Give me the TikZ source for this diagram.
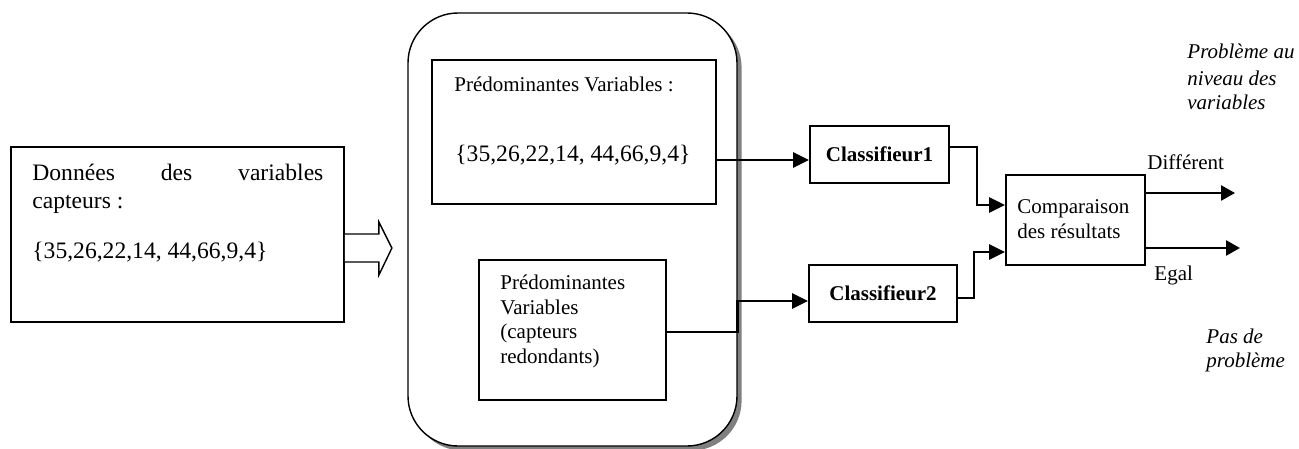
\documentclass[tikz,border=0pt]{standalone}
\usepackage{fontspec}
\setmainfont{Liberation Serif}
\usetikzlibrary{arrows.meta,shadows,calc}

\begin{document}
\begin{tikzpicture}[x=0.5pt,y=-0.5pt,
  every node/.style={font=\fontsize{10.5}{12.5}\selectfont},
  box/.style={draw, line width=0.9pt, inner sep=0pt, fill=white},
  txt/.style={anchor=base west, inner sep=0pt},
  bigtxt/.style={txt, font=\fontsize{11.8}{14}\selectfont},
  conn/.style={line width=1.3pt},
  arr/.style={conn, -{Triangle[length=8pt,width=7.5pt]}},
  outarr/.style={conn, -{Triangle[length=7pt,width=7.5pt]}},
]
\useasboundingbox (0,0) rectangle (1299,449);

% input data block
\node[box, minimum width=166.5pt, minimum height=87.5pt] (src) at (177.5,234.5) {};
\node[bigtxt] (srcA) at (32,180) {\makebox[145.5pt][s]{Données\hfill des\hfill variables}};
\node[bigtxt] (srcB) at (32,208) {capteurs :};
\node[bigtxt] (srcC) at (32,258) {\{35,26,22,14, 44,66,9,4\}};

% processing unit with its drop shadow
\node[draw, line width=0.7pt, fill=white, rounded corners=25pt,
      minimum width=164.5pt, minimum height=216.5pt,
      drop shadow={shadow xshift=2.3pt, shadow yshift=-2.3pt, fill=black!50, opacity=1}]
      (unit) at (572.5,229.5) {};

% hollow arrow feeding the unit
\coordinate (hb) at (src.east |- 0,248);
\draw[line width=0.7pt, fill=white] (hb) ++(0,-14) -- ++(34,0) -- ++(0,-12)
  -- ++(13,26) -- ++(-13,27) -- ++(0,-13) -- ++(-34,0);

% variable subsets
\node[box, minimum width=142pt, minimum height=72pt] (pv1) at (574,132) {};
\node[txt] (pv1A) at (454,91) {Prédominantes Variables :};
\node[bigtxt] (pv1B) at (455,161) {\{35,26,22,14, 44,66,9,4\}};

\node[box, minimum width=93.5pt, minimum height=70pt] (pv2) at (572.5,330) {};
\node[txt] (pv2A) at (500,289) {Prédominantes};
\node[txt] (pv2B) at (500,314) {Variables};
\node[txt] (pv2C) at (500,338) {(capteurs};
\node[txt] (pv2D) at (500,363) {redondants)};

% classifiers and comparison
\node[box, minimum width=69.5pt, minimum height=28.5pt] (c1) at (879.5,154.5) {\bfseries Classifieur1};
\node[box, minimum width=74pt, minimum height=28.5pt] (c2) at (883,293.5) {\bfseries Classifieur2};
\node[box, minimum width=69.5pt, minimum height=45pt] (cmp) at (1075.5,220) {};
\node[txt] (cmpA) at (1017,213) {Comparaison};
\node[txt] (cmpB) at (1017,238) {des résultats};

% connectors
\draw[arr] (pv1.east |- 0,160) -- (c1.west |- 0,160);
\draw[arr] (pv2.east |- 0,332) -| (unit.east |- 0,301) -- (c2.west |- 0,301);
\draw[arr] (c1.east |- 0,147) -| (977,205) -- (cmp.west |- 0,205);
\draw[arr] (c2.east |- 0,298) -| (974,252) -- (cmp.west |- 0,252);

\coordinate (o1) at (1235,193);
\coordinate (o2) at (1240,248);
\draw[outarr] (cmp.east |- o1) -- (o1);
\draw[outarr] (cmp.east |- o2) -- (o2);

% outcome labels
\node[txt] (dif) at (1147,169) {Différent};
\node[txt] (eg) at (1154,280) {Egal};

\node[txt] (pbA) at (1187,59) {\itshape Problème au};
\node[txt] (pbB) at (1187,85) {\itshape niveau des};
\node[txt] (pbC) at (1187,110) {\itshape variables};

\node[txt] (okA) at (1206,343) {\itshape Pas de};
\node[txt] (okB) at (1206,367) {\itshape problème};
\end{tikzpicture}
\end{document}
